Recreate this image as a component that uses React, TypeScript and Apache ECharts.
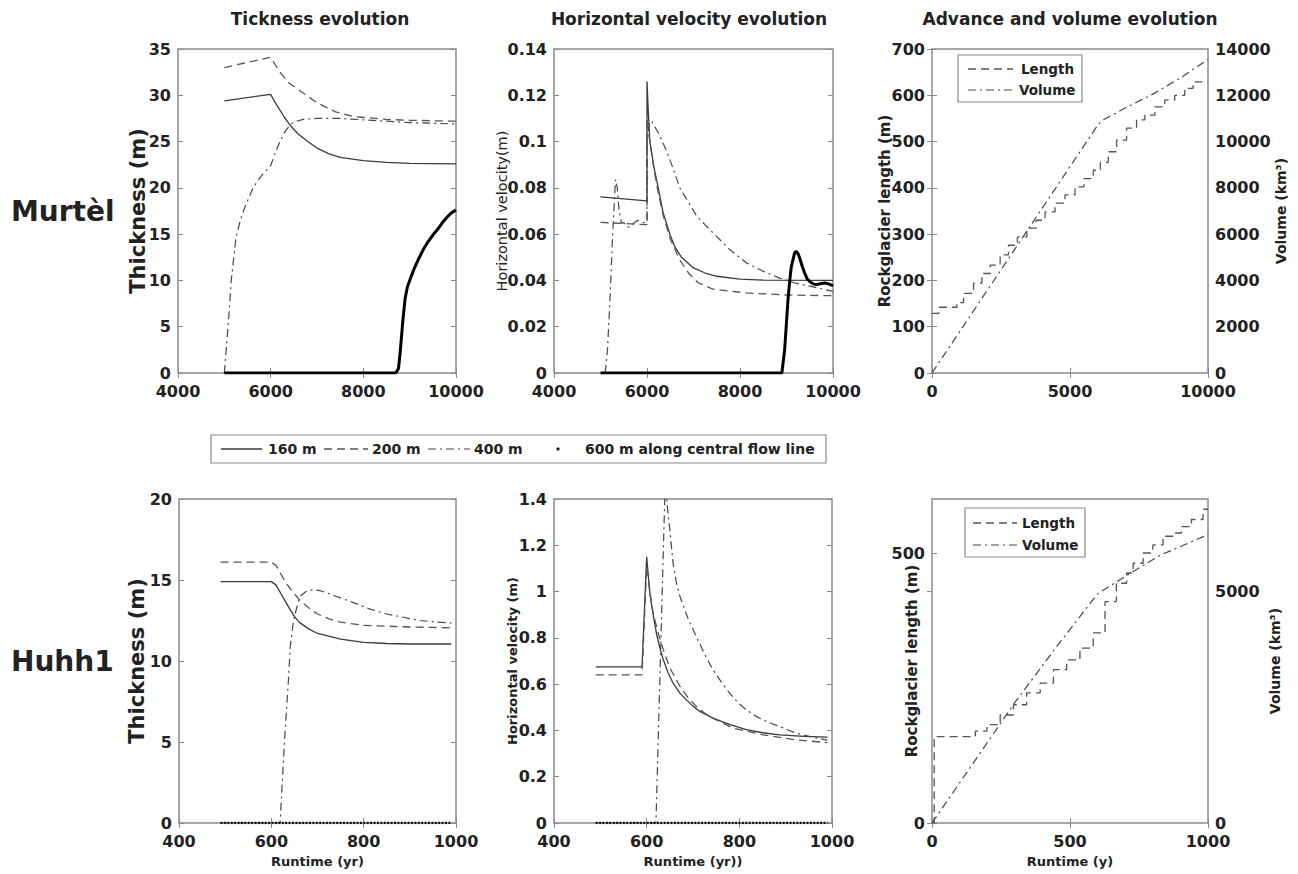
import React, { useEffect, useRef } from "react";
import * as echarts from "echarts";

type Pt = [number, number];

// ---------------- DATA ----------------
// Murtèl: thickness (m) vs runtime (yr)
const murtelThick160: Pt[] = [[5000,29.4],[6000,30.1],[6100,29.2],[6200,28.4],[6300,27.6],[6400,26.9],[6500,26.3],[6600,25.8],[6800,25.0],[7000,24.3],[7250,23.7],[7500,23.3],[8000,22.95],[8500,22.75],[9000,22.65],[10000,22.6]];
const murtelThick200: Pt[] = [[5000,33.0],[6000,34.1],[6100,33.3],[6200,32.5],[6400,31.3],[6600,30.6],[6800,29.9],[7000,29.2],[7200,28.7],[7400,28.2],[7800,27.7],[8500,27.4],[9000,27.3],[10000,27.2]];
const murtelThick400: Pt[] = [[5000,0],[5080,5],[5150,10],[5250,14.6],[5350,16.6],[5450,18],[5620,20],[5800,21.3],[6000,22.4],[6100,23.8],[6200,25.0],[6300,26.0],[6400,26.7],[6500,27.1],[6700,27.4],[7000,27.5],[7500,27.5],[8000,27.35],[8500,27.2],[9000,27.05],[10000,26.9]];
const murtelThick600: Pt[] = [[5000,0],[8700,0],[8760,0.5],[8800,2.5],[8850,5.5],[8900,8.0],[8950,9.3],[9000,10.0],[9100,11.3],[9200,12.4],[9300,13.4],[9400,14.2],[9500,14.9],[9600,15.5],[9700,16.2],[9800,16.8],[9900,17.3],[10000,17.6]];

// Murtèl: horizontal velocity (m) vs runtime (yr)
const murtelVel160: Pt[] = [[5000,0.0761],[6000,0.0744],[6000,0.126],[6030,0.112],[6062,0.100],[6150,0.089],[6241,0.080],[6350,0.069],[6491,0.060],[6600,0.0545],[6742,0.050],[6992,0.0455],[7250,0.0432],[7500,0.0418],[8000,0.0406],[8500,0.0401],[10000,0.040]];
const murtelVel200: Pt[] = [[5000,0.0651],[6000,0.0641],[6000,0.110],[6060,0.100],[6150,0.088],[6250,0.077],[6350,0.068],[6500,0.058],[6700,0.049],[6900,0.043],[7100,0.039],[7422,0.0362],[8137,0.0346],[9000,0.0337],[10000,0.0334]];
const murtelVel400: Pt[] = [[5100,0],[5150,0.01],[5200,0.03],[5250,0.055],[5300,0.075],[5324,0.0836],[5360,0.080],[5400,0.070],[5450,0.0648],[5500,0.065],[5550,0.0635],[5600,0.063],[5700,0.0645],[5800,0.066],[5900,0.065],[6000,0.065],[6000,0.100],[6050,0.108],[6097,0.109],[6250,0.1035],[6419,0.096],[6560,0.0885],[6705,0.080],[6900,0.0735],[7063,0.068],[7250,0.064],[7422,0.0605],[7780,0.0533],[8137,0.0476],[8495,0.044],[8853,0.041],[9200,0.0388],[9570,0.0372],[10000,0.0353]];
const murtelVel600: Pt[] = [[5000,0],[8900,0],[8960,0.010],[9000,0.022],[9032,0.0317],[9070,0.040],[9104,0.046],[9175,0.0519],[9211,0.0526],[9250,0.0515],[9283,0.0497],[9340,0.046],[9390,0.0432],[9450,0.0405],[9497,0.0396],[9570,0.0385],[9640,0.0382],[9730,0.0386],[9820,0.0389],[9910,0.0385],[10000,0.0377]];

// Murtèl: advance (length, m) and volume (km3) vs runtime (yr)
const murtelLenYears = [0,250,900,1143,1504,1808,2108,2469,2770,3095,3435,3771,4096,4458,4819,5181,5506,5843,6100,6386,6688,7050,7411,7712,8073,8435,8796,9157,9458,10000];
const murtelLenValues = [129,142,152,172,194,215,233,255,276,294,313,330,348,367,385,402,420,438,455,478,503,529,547,557,575,590,600,615,629,630];
const murtelVolume: Pt[] = [[0,0],[6000,10700],[6150,10900],[7000,11450],[8000,12050],[9000,12750],[10000,13550]];

// Huhh1: thickness (m)
const huhhThick160: Pt[] = [[490,14.9],[600,14.9],[610,14.7],[620,14.2],[630,13.7],[640,13.2],[650,12.75],[660,12.4],[680,12.0],[700,11.7],[750,11.35],[800,11.15],[850,11.08],[900,11.05],[990,11.05]];
const huhhThick200: Pt[] = [[490,16.1],[600,16.1],[610,15.9],[620,15.4],[630,14.9],[640,14.5],[660,13.8],[680,13.3],[700,12.9],[725,12.6],[750,12.4],[800,12.2],[900,12.1],[990,12.05]];
const huhhThick400: Pt[] = [[490,0],[619,0],[629,5.3],[637,8.8],[641,10.9],[648,12.5],[655,13.3],[662,14.0],[676,14.3],[691,14.4],[705,14.35],[740,14.0],[778,13.6],[814,13.2],[850,12.9],[886,12.7],[922,12.5],[958,12.4],[990,12.35]];
const huhhThick600: Pt[] = [[490,0],[990,0]];

// Huhh1: horizontal velocity (m)
const huhhVel160: Pt[] = [[490,0.675],[590,0.675],[600,1.15],[607,0.99],[614,0.90],[621,0.82],[628,0.76],[636,0.705],[646,0.65],[657,0.604],[672,0.56],[686,0.532],[700,0.505],[715,0.482],[743,0.453],[780,0.425],[815,0.403],[850,0.39],[887,0.381],[940,0.374],[990,0.371]];
const huhhVel200: Pt[] = [[490,0.64],[590,0.64],[600,1.108],[607,1.0],[614,0.906],[625,0.82],[636,0.748],[650,0.67],[672,0.59],[690,0.54],[707,0.504],[725,0.475],[743,0.453],[786,0.41],[851,0.381],[920,0.36],[990,0.347]];
const huhhVel400: Pt[] = [[490,0],[620,0],[639,1.4],[641,1.45],[645,1.36],[650,1.266],[657,1.122],[664,1.04],[672,0.978],[690,0.88],[707,0.806],[725,0.73],[743,0.662],[761,0.61],[779,0.561],[797,0.52],[815,0.489],[833,0.465],[851,0.446],[869,0.43],[887,0.417],[905,0.402],[923,0.388],[960,0.37],[990,0.358]];
const huhhVel600: Pt[] = [[490,0],[990,0]];

// Huhh1: advance and volume
const huhhLenYears = [0,8,157,199,247,295,343,392,440,488,536,584,627,668,705,729,765,800,837,880,904,940,982,1000];
const huhhLenValues = [0,160,170,182,200,219,241,259,284,302,324,352,410,444,463,481,500,515,531,537,549,562,581,581];
const huhhVolume: Pt[] = [[0,0],[150,1300],[300,2600],[450,3800],[600,4950],[681,5257],[825,5780],[1000,6230]];

const rowLabels = ["Murtèl", "Huhh1"];
const panelTitles = ["Tickness evolution", "Horizontal velocity evolution", "Advance and volume evolution"];
const legendNames = ["160 m", "200 m", "400 m", "600 m along central flow line"];

// ---------------- STYLE ----------------
const FONT = "DejaVu Sans";
const TXT = "#222222";
const AX = "#8a8a8a";
const ST: Record<string, any> = {
  s160: { color: "#3a3a3a", type: "solid", width: 1.3 },
  s200: { color: "#555555", type: [8, 5], width: 1.3 },
  s400: { color: "#474747", type: [8, 4, 2, 4], width: 1.2 },
  s600: { color: "#000000", type: "solid", width: 3 },
  s600dot: { color: "#111111", type: [2, 1.4], width: 2.5 },
};

const grids = [
  { left: 178, top: 49, width: 278, height: 324 },
  { left: 554, top: 49, width: 279, height: 324 },
  { left: 932, top: 49, width: 276, height: 324 },
  { left: 179, top: 499, width: 277, height: 324 },
  { left: 554, top: 499, width: 278, height: 324 },
  { left: 932, top: 499, width: 276, height: 324 },
];

const fmt = (v: number) => String(parseFloat(Number(v).toPrecision(10)));
const labelStyle = { fontFamily: FONT, fontWeight: "bold", fontSize: 16, lineHeight: 14, color: TXT, formatter: fmt };
const tickStyle = { inside: true, length: 5, lineStyle: { color: AX, width: 1 } };

function xPair(g: number, min: number, max: number, interval: number, name?: string) {
  return [
    {
      type: "value", gridIndex: g, min, max, interval, position: "bottom",
      axisLine: { show: false }, axisTick: tickStyle, splitLine: { show: false },
      axisLabel: { ...labelStyle, margin: 11 },
      name: name || "", nameLocation: "middle", nameGap: 32, nameMoveOverlap: false,
      nameTextStyle: { fontFamily: FONT, fontWeight: "bold", fontSize: 13, color: TXT },
    },
    {
      type: "value", gridIndex: g, min, max, interval, position: "top",
      axisLine: { show: false }, axisTick: tickStyle, splitLine: { show: false },
      axisLabel: { show: false },
    },
  ];
}

function yAxis(g: number, pos: "left" | "right", min: number, max: number, interval: number, opts: any = {}) {
  const labels = opts.labels !== false;
  return {
    type: "value", gridIndex: g, min, max, interval, position: pos,
    axisLine: { show: false }, axisTick: tickStyle, splitLine: { show: false },
    axisLabel: labels ? { ...labelStyle, margin: 7, showMaxLabel: opts.showMax !== false } : { show: false },
    name: opts.name || "", nameLocation: "middle", nameGap: opts.gap || 30, nameRotate: 90,
    nameMoveOverlap: false,
    nameTextStyle: {
      fontFamily: FONT, fontWeight: opts.weight || "bold", fontSize: opts.size || 15, color: TXT,
    },
  };
}

function ser(name: string, data: Pt[], st: any, g: number, right = false, step?: string) {
  return {
    type: "line", name, data, xAxisIndex: 2 * g, yAxisIndex: right ? 2 * g + 1 : 2 * g,
    showSymbol: false, symbol: "none", step: step || false,
    lineStyle: { color: st.color, type: st.type, width: st.width, cap: "butt" },
    z: name.startsWith("600") ? 3 : 2,
  };
}

function zip(xs: number[], ys: number[]): Pt[] {
  return xs.map((x, i) => [x, ys[i]] as Pt);
}

function txt(text: string, x: number, y: number, size: number, align = "left", weight = "bold") {
  return {
    type: "text", x, y, z: 100,
    style: {
      text, fill: TXT, font: `${weight} ${size}px "${FONT}"`,
      align, verticalAlign: "middle", textAlign: align, textVerticalAlign: "middle",
    },
  };
}

function seg(x1: number, x2: number, y: number, st: any) {
  return {
    type: "line", z: 100,
    shape: { x1, y1: y, x2, y2: y },
    style: { stroke: st.color, lineWidth: st.width === 3 ? 1.3 : st.width, lineDash: Array.isArray(st.type) ? st.type : null },
  };
}

export default function App() {
  const ref = useRef<HTMLDivElement>(null);
  useEffect(() => {
    if (!ref.current) return;
    const chart = echarts.init(ref.current, null, { renderer: "svg" });
    const xAxis = [
      ...xPair(0, 4000, 10000, 2000),
      ...xPair(1, 4000, 10000, 2000),
      ...xPair(2, 0, 10000, 5000),
      ...xPair(3, 400, 1000, 200, "Runtime (yr)"),
      ...xPair(4, 400, 1000, 200, "Runtime (yr))"),
      ...xPair(5, 0, 1000, 500, "Runtime (y)"),
    ];
    const yAxisArr = [
      yAxis(0, "left", 0, 35, 5, { name: "Thickness (m)", size: 21, gap: 30 }),
      yAxis(0, "right", 0, 35, 5, { labels: false }),
      yAxis(1, "left", 0, 0.14, 0.02, { name: "Horizontal velocity(m)", size: 14.5, weight: "normal", gap: 45 }),
      yAxis(1, "right", 0, 0.14, 0.02, { labels: false }),
      yAxis(2, "left", 0, 700, 100, { name: "Rockglacier length (m)", size: 15, gap: 40 }),
      yAxis(2, "right", 0, 14000, 2000, { name: "Volume (km³)", size: 14, gap: 66 }),
      yAxis(3, "left", 0, 20, 5, { name: "Thickness (m)", size: 21, gap: 32 }),
      yAxis(3, "right", 0, 20, 5, { labels: false }),
      yAxis(4, "left", 0, 1.4, 0.2, { name: "Horizontal velocity (m)", size: 13, gap: 35 }),
      yAxis(4, "right", 0, 1.4, 0.2, { labels: false }),
      yAxis(5, "left", 0, 600, 500, { name: "Rockglacier length (m)", size: 15, gap: 13, showMax: false }),
      yAxis(5, "right", 0, 7000, 5000, { name: "Volume (km³)", size: 14, gap: 60, showMax: false }),
    ];
    const series = [
      ser(legendNames[0], murtelThick160, ST.s160, 0),
      ser(legendNames[1], murtelThick200, ST.s200, 0),
      ser(legendNames[2], murtelThick400, ST.s400, 0),
      ser(legendNames[3], murtelThick600, ST.s600, 0),
      ser(legendNames[0], murtelVel160, ST.s160, 1),
      ser(legendNames[1], murtelVel200, ST.s200, 1),
      ser(legendNames[2], murtelVel400, ST.s400, 1),
      ser(legendNames[3], murtelVel600, ST.s600, 1),
      ser("Length", zip(murtelLenYears, murtelLenValues), ST.s200, 2, false, "end"),
      ser("Volume", murtelVolume, ST.s400, 2, true),
      ser(legendNames[0], huhhThick160, ST.s160, 3),
      ser(legendNames[1], huhhThick200, ST.s200, 3),
      ser(legendNames[2], huhhThick400, ST.s400, 3),
      ser(legendNames[3], huhhThick600, ST.s600dot, 3),
      ser(legendNames[0], huhhVel160, ST.s160, 4),
      ser(legendNames[1], huhhVel200, ST.s200, 4),
      ser(legendNames[2], huhhVel400, ST.s400, 4),
      ser(legendNames[3], huhhVel600, ST.s600dot, 4),
      ser("Length", zip(huhhLenYears, huhhLenValues), ST.s200, 5, false, "end"),
      ser("Volume", huhhVolume, ST.s400, 5, true),
    ];
    const graphic = [
      txt(panelTitles[0], 320, 19, 17, "center"),
      txt(panelTitles[1], 689, 19, 17, "center"),
      txt(panelTitles[2], 1070, 19, 17, "center"),
      txt(rowLabels[0], 11, 211, 28),
      txt(rowLabels[1], 11, 661, 28),
      // shared legend
      { type: "rect", z: 99, shape: { x: 211, y: 435, width: 615, height: 28 }, style: { fill: "#fff", stroke: AX, lineWidth: 1.2 } },
      seg(221, 262, 449, ST.s160), txt(legendNames[0], 268, 449, 14),
      seg(324, 368, 449, ST.s200), txt(legendNames[1], 372, 449, 14),
      seg(428, 470, 449, ST.s400), txt(legendNames[2], 474, 449, 14),
      { type: "circle", z: 100, shape: { cx: 558, cy: 449, r: 1.6 }, style: { fill: "#111" } },
      txt(legendNames[3], 585, 449, 14),
      // Murtèl advance legend
      { type: "rect", z: 99, shape: { x: 958, y: 55, width: 124, height: 47 }, style: { fill: "#fff", stroke: AX, lineWidth: 1.2 } },
      seg(968, 1013, 69, ST.s200), txt("Length", 1021, 69, 13.5),
      seg(968, 1013, 90, ST.s400), txt("Volume", 1019, 90, 13.5),
      // Huhh1 advance legend
      { type: "rect", z: 99, shape: { x: 965, y: 508, width: 120, height: 49 }, style: { fill: "#fff", stroke: AX, lineWidth: 1.2 } },
      seg(973, 1017, 523, ST.s200), txt("Length", 1022, 523, 13.5),
      seg(973, 1017, 545, ST.s400), txt("Volume", 1022, 545, 13.5),
    ];
    chart.setOption({
      animation: false,
      backgroundColor: "#ffffff",
      grid: grids.map((g) => ({ ...g, show: true, borderColor: AX, borderWidth: 1.5, backgroundColor: "transparent", containLabel: false })),
      xAxis,
      yAxis: yAxisArr,
      series,
      graphic,
    });
    return () => chart.dispose();
  }, []);
  return (
    <div
      ref={ref}
      style={{ position: "fixed", left: 0, top: 0, width: 1298, height: 874, background: "#fff" }}
    />
  );
}
